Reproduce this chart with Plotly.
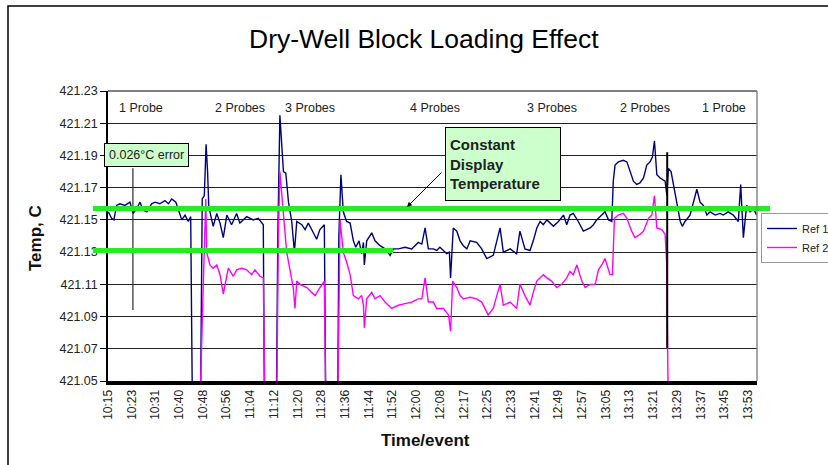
import plotly.graph_objects as go

# ---------------- data ----------------
time_labels = ["10:15", "10:23", "10:31", "10:40", "10:48", "10:56", "11:04", "11:12",
               "11:20", "11:28", "11:36", "11:44", "11:52", "12:00", "12:08", "12:17",
               "12:25", "12:33", "12:41", "12:49", "12:57", "13:05", "13:13", "13:21",
               "13:29", "13:37", "13:45", "13:53"]
tick_positions = [0, 8, 16, 24, 32, 40, 48, 56, 64, 72, 80, 88, 96, 104, 112, 120,
                  128, 136, 144, 152, 160, 168, 176, 184, 192, 200, 208, 216]

# sample position (reading number) and temperature, Ref 1
ref1_t = [0.1, 1.2, 2.0, 2.9, 4.0, 5.7, 7.4, 8.5, 9.7, 10.8, 11.9, 13.1, 14.7, 15.9, 17.5, 19.2,
          20.4, 21.5, 22.9, 24.1, 24.9, 26.0, 27.1, 27.9, 28.5, 31.2, 31.8, 32.5, 33.1, 33.6,
          34.0, 34.4, 35.5, 36.7, 37.8, 38.9, 40.1, 41.7, 43.4, 44.5, 46.8, 49.0, 50.7, 52.4,
          52.8, 56.8, 57.3, 58.0, 59.2, 60.0, 60.9, 62.0, 62.9, 63.7, 65.4, 66.5, 67.6, 69.3,
          70.4, 71.5, 73.0, 73.5, 77.5, 77.9, 78.6, 79.4, 80.5, 81.7, 82.8, 83.6, 84.7, 85.6,
          86.2, 86.5, 87.3, 89.0, 90.1, 91.8, 93.5, 95.2, 96.3, 98.0, 100.2, 102.5, 104.7,
          105.9, 107.0, 108.1, 109.8, 110.9, 112.0, 114.3, 115.2, 115.6, 116.5, 117.7, 118.8,
          119.9, 121.1, 122.2, 124.4, 126.1, 127.8, 130.0, 131.2, 132.3, 133.4, 135.7, 137.9,
          139.0, 140.7, 142.4, 143.5, 144.7, 145.8, 146.9, 148.1, 150.3, 152.0, 153.7, 154.8,
          155.9, 157.0, 158.7, 160.4, 162.7, 163.8, 164.9, 166.6, 167.7, 168.9, 170.0, 170.5,
          171.1, 172.2, 173.9, 175.1, 176.2, 177.3, 178.4, 179.5, 180.7, 181.8, 182.9, 183.7,
          184.4, 185.2, 186.3, 188.0, 188.6, 189.1, 190.0, 190.8, 191.9, 193.1, 193.8, 194.7,
          196.4, 197.5, 198.7, 199.8, 200.9, 202.1, 203.2, 204.9, 206.5, 207.6, 209.3, 211.0,
          212.7, 213.5, 214.4, 215.5, 216.7, 217.8, 218.9]
ref1_temp = [421.155, 421.151, 421.150, 421.159, 421.160, 421.159, 421.161, 421.154, 421.157,
             421.161, 421.156, 421.155, 421.160, 421.161, 421.160, 421.162, 421.160, 421.163,
             421.161, 421.154, 421.150, 421.153, 421.149, 421.152, 421.030, 421.030, 421.163,
             421.165, 421.197, 421.180, 421.159, 421.155, 421.146, 421.154, 421.148, 421.139,
             421.153, 421.147, 421.154, 421.148, 421.152, 421.150, 421.151, 421.147, 421.030,
             421.030, 421.140, 421.215, 421.180, 421.179, 421.161, 421.149, 421.130, 421.149,
             421.147, 421.144, 421.148, 421.142, 421.138, 421.144, 421.147, 421.030, 421.030,
             421.140, 421.178, 421.155, 421.149, 421.148, 421.137, 421.133, 421.137, 421.129,
             421.136, 421.122, 421.137, 421.142, 421.137, 421.134, 421.132, 421.128, 421.132,
             421.132, 421.133, 421.132, 421.136, 421.135, 421.145, 421.132, 421.132, 421.131,
             421.133, 421.129, 421.130, 421.114, 421.145, 421.143, 421.137, 421.134, 421.132,
             421.137, 421.136, 421.132, 421.126, 421.128, 421.137, 421.145, 421.130, 421.132,
             421.129, 421.143, 421.132, 421.131, 421.137, 421.145, 421.149, 421.147, 421.150,
             421.146, 421.149, 421.153, 421.147, 421.153, 421.154, 421.149, 421.143, 421.145,
             421.147, 421.150, 421.153, 421.155, 421.150, 421.149, 421.174, 421.184, 421.186,
             421.187, 421.186, 421.180, 421.174, 421.172, 421.173, 421.176, 421.184, 421.186,
             421.189, 421.199, 421.178, 421.176, 421.174, 421.165, 421.182, 421.180, 421.172,
             421.159, 421.149, 421.146, 421.149, 421.153, 421.161, 421.169, 421.161, 421.159,
             421.153, 421.155, 421.153, 421.154, 421.153, 421.155, 421.153, 421.149, 421.172,
             421.139, 421.159, 421.155, 421.157, 421.153]

# Ref 2
ref2_t = [0.0, 31.0, 32.0, 33.0, 33.3, 34.4, 35.5, 36.7, 37.8, 38.9, 40.6, 42.3, 43.4, 45.1,
          46.8, 48.5, 49.6, 51.3, 52.4, 53.0, 56.9, 57.5, 58.0, 58.6, 59.5, 60.3, 61.4, 62.5,
          63.1, 63.7, 64.8, 65.9, 67.1, 68.7, 69.9, 71.5, 73.0, 73.5, 77.5, 78.3, 79.4, 80.5,
          81.7, 82.8, 84.5, 85.6, 86.2, 86.5, 87.3, 89.0, 90.1, 91.8, 93.5, 95.7, 98.0, 100.2,
          102.5, 104.7, 105.9, 107.0, 108.1, 109.8, 110.9, 113.2, 114.9, 115.6, 116.3, 117.7,
          118.8, 119.9, 122.2, 124.4, 126.1, 128.3, 130.0, 131.2, 132.3, 133.4, 135.7, 137.9,
          139.0, 140.7, 142.4, 143.5, 144.7, 146.9, 148.1, 149.7, 151.4, 153.1, 154.8, 155.9,
          157.0, 158.2, 159.9, 161.0, 162.7, 164.4, 165.5, 166.6, 167.7, 169.4, 170.2, 170.9,
          172.2, 173.9, 175.1, 176.7, 177.8, 179.5, 180.7, 182.4, 183.5, 184.4, 185.2, 186.9,
          188.0, 188.5, 189.1, 219.0]
ref2_temp = [421.030, 421.030, 421.100, 421.163, 421.130, 421.122, 421.120, 421.122, 421.116,
             421.104, 421.120, 421.115, 421.119, 421.120, 421.119, 421.116, 421.119, 421.115,
             421.114, 421.030, 421.030, 421.140, 421.180, 421.165, 421.147, 421.130, 421.120,
             421.108, 421.095, 421.112, 421.110, 421.109, 421.108, 421.105, 421.103, 421.108,
             421.112, 421.030, 421.030, 421.150, 421.130, 421.124, 421.116, 421.103, 421.101,
             421.103, 421.097, 421.083, 421.101, 421.105, 421.101, 421.103, 421.099, 421.095,
             421.097, 421.098, 421.099, 421.101, 421.101, 421.114, 421.099, 421.099, 421.095,
             421.095, 421.091, 421.081, 421.112, 421.108, 421.103, 421.101, 421.102, 421.101,
             421.099, 421.091, 421.095, 421.103, 421.110, 421.097, 421.099, 421.095, 421.110,
             421.103, 421.097, 421.105, 421.112, 421.116, 421.114, 421.112, 421.108, 421.110,
             421.114, 421.118, 421.116, 421.122, 421.112, 421.108, 421.110, 421.110, 421.119,
             421.122, 421.126, 421.116, 421.116, 421.151, 421.153, 421.154, 421.151, 421.143,
             421.139, 421.141, 421.143, 421.151, 421.153, 421.165, 421.145, 421.144, 421.141,
             421.124, 421.030, 421.030]

display_upper = 421.157
display_lower = 421.131
error_bar_t = [8.4, 8.4]
error_bar_temp = [display_upper, display_lower]
error_span = [421.094, 421.182]
event_line_t = 188.7
event_line_span = [421.0705, 421.192]

probe_labels = ["1 Probe", "2 Probes", "3 Probes", "4 Probes", "3 Probes", "2 Probes", "1 Probe"]

y_ticks = [421.05, 421.07, 421.09, 421.11, 421.13, 421.15, 421.17, 421.19, 421.21, 421.23]

# ---------------- layout helpers ----------------
W, H = 828, 465
L, R, T, B = 108, 757, 91, 381


def px(x):
    return (x - L) / (R - L)


def py(y):
    return (B - y) / (B - T)


probe_label_px = [141, 240, 310, 435, 552, 645, 724]

FONT = "Liberation Sans, Arial, sans-serif"

fig = go.Figure()
fig.add_trace(go.Scatter(x=ref1_t, y=ref1_temp, mode="lines", name="Ref 1",
                         line=dict(color="#000080", width=1.4)))
fig.add_trace(go.Scatter(x=ref2_t, y=ref2_temp, mode="lines", name="Ref 2",
                         line=dict(color="#ff00ff", width=1.4)))
fig.add_trace(go.Scatter(x=error_bar_t, y=error_bar_temp, mode="markers", showlegend=False,
                         marker=dict(symbol="square", size=4, color="black"),
                         hoverinfo="skip"))

shapes = [
    # error indicator vertical line
    dict(type="line", xref="x", yref="y", x0=error_bar_t[0], x1=error_bar_t[0],
         y0=error_span[0], y1=error_span[1], line=dict(color="#555555", width=1.5), layer="below"),
    # event line
    dict(type="line", xref="x", yref="y", x0=event_line_t, x1=event_line_t,
         y0=event_line_span[0], y1=event_line_span[1], line=dict(color="black", width=2)),
    # green display lines
    dict(type="line", xref="paper", yref="y", x0=px(93), x1=px(770),
         y0=display_upper, y1=display_upper, line=dict(color="#22ee22", width=5)),
    dict(type="line", xref="paper", yref="y", x0=px(93), x1=px(393),
         y0=display_lower, y1=display_lower, line=dict(color="#22ee22", width=5)),
    # plot frame top and right
    dict(type="line", xref="paper", yref="paper", x0=0, x1=1, y0=1, y1=1,
         line=dict(color="black", width=1)),
    dict(type="line", xref="paper", yref="paper", x0=1, x1=1, y0=0, y1=1,
         line=dict(color="#888888", width=1.5)),
    # outer chart border
    dict(type="rect", xref="paper", yref="paper", x0=px(8), x1=px(900), y0=py(520), y1=py(6),
         line=dict(color="black", width=1.5), fillcolor="rgba(0,0,0,0)"),
]

annotations = [
    dict(text="Dry-Well Block Loading Effect", x=px(424), y=py(39), xref="paper", yref="paper",
         showarrow=False, xanchor="center", yanchor="middle",
         font=dict(family=FONT, size=26.5, color="black")),
    dict(text="<b>Temp, C</b>", x=px(35), y=py(238), xref="paper", yref="paper",
         showarrow=False, textangle=-90, xanchor="center", yanchor="middle",
         font=dict(family=FONT, size=17, color="#111")),
    dict(text="<b>Time/event</b>", x=px(425), y=py(440), xref="paper", yref="paper",
         showarrow=False, xanchor="center", yanchor="middle",
         font=dict(family=FONT, size=17, color="#111")),
    dict(text="0.026°C error", x=px(146), y=py(155), xref="paper", yref="paper",
         showarrow=False, xanchor="center", yanchor="middle", bgcolor="#ccffcc",
         bordercolor="black", borderwidth=1, borderpad=4,
         font=dict(family=FONT, size=12.5, color="#222")),
    dict(text="<b>Constant<br>Display<br>Temperature</b>", x=px(503), y=py(164),
         xref="paper", yref="paper", showarrow=False, xanchor="center", yanchor="middle",
         align="left", width=106, height=64, bgcolor="#ccffcc", bordercolor="black",
         borderwidth=1, borderpad=4, font=dict(family=FONT, size=15, color="#222")),
    dict(text="", x=px(407), y=py(207), xref="paper", yref="paper", showarrow=True,
         ax=36, ay=-36, arrowhead=2, arrowsize=1, arrowwidth=1, arrowcolor="black"),
]
for lab, xp in zip(probe_labels, probe_label_px):
    annotations.append(dict(text=lab, x=px(xp), y=py(108), xref="paper", yref="paper",
                            showarrow=False, xanchor="center", yanchor="middle",
                            font=dict(family=FONT, size=12.5, color="#222")))

fig.update_layout(
    width=W, height=H,
    margin=dict(l=L, r=W - R, t=T, b=H - B, autoexpand=False),
    paper_bgcolor="white", plot_bgcolor="white",
    showlegend=True,
    legend=dict(x=px(761), y=py(213), xanchor="left", yanchor="top",
                bordercolor="#999999", borderwidth=1, bgcolor="white",
                font=dict(family=FONT, size=11, color="#222"),
                tracegroupgap=0, itemwidth=30),
    xaxis=dict(range=[0, 219], tickmode="array", tickvals=tick_positions, ticktext=time_labels,
               tickangle=-90, showgrid=False, zeroline=False, showline=True,
               linecolor="black", linewidth=4, ticks="",
               tickfont=dict(family=FONT, size=12, color="#222")),
    yaxis=dict(range=[421.05, 421.23], tickmode="array", tickvals=y_ticks, tickformat=".2f",
               showgrid=True, gridcolor="#222222", gridwidth=1, zeroline=False,
               showline=True, linecolor="black", linewidth=1.5, ticks="outside",
               ticklen=6, tickcolor="black",
               tickfont=dict(family=FONT, size=12.5, color="#222")),
    shapes=shapes,
    annotations=annotations,
)

fig.write_html("out.html", post_script="document.body.style.margin='0';",
               config={"displayModeBar": False})
